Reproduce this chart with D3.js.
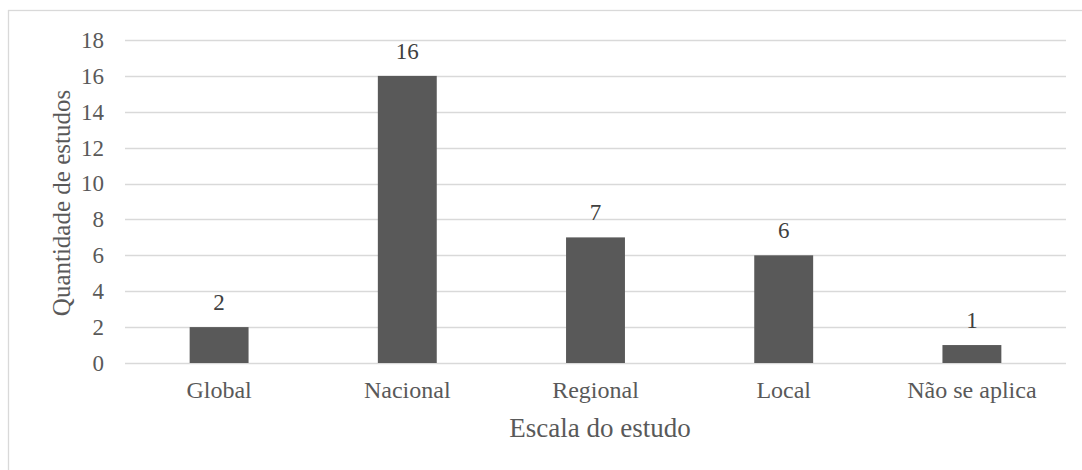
<!DOCTYPE html>
<html>
<head>
<script src="https://cdn.jsdelivr.net/npm/d3@7"></script>
</head>
<body style="margin:0">
<svg id="chart" width="1082" height="470"></svg>
<script>
// Number of studies per study scale
const categories = ["Global", "Nacional", "Regional", "Local", "Não se aplica"];
const values = [2, 16, 7, 6, 1];
const yTicks = [0, 2, 4, 6, 8, 10, 12, 14, 16, 18];
const yTitle = "Quantidade de estudos";
const xTitle = "Escala do estudo";

const W = 1082, H = 470;
const plot = { left: 125, right: 1066, top: 40, bottom: 363 };
const textColor = "#595959";
const gridColor = "#d9d9d9";
const FONT = '"Liberation Serif"';

const svg = d3.select("#chart")
  .style("font-family", FONT)
  .attr("font-family", "Liberation Serif");

// outer frame
svg.append("rect")
  .attr("x", 8.5).attr("y", 10.5)
  .attr("width", W + 20).attr("height", H + 20)
  .attr("fill", "#fff").attr("stroke", gridColor).attr("stroke-width", 1.3);

const x = d3.scaleBand()
  .domain(categories)
  .range([plot.left, plot.right])
  .paddingInner(0.687)
  .paddingOuter(0.3435);

const y = d3.scaleLinear()
  .domain([0, 18])
  .range([plot.bottom, plot.top]);

// horizontal gridlines
svg.append("g")
  .selectAll("line")
  .data(yTicks)
  .join("line")
  .attr("x1", plot.left).attr("x2", plot.right)
  .attr("y1", d => Math.round(y(d)) + 0.5)
  .attr("y2", d => Math.round(y(d)) + 0.5)
  .attr("stroke", gridColor).attr("stroke-width", 1.5);

// y axis labels
const yAxis = d3.axisLeft(y).tickValues(yTicks).tickSize(0).tickPadding(0);
const gy = svg.append("g")
  .attr("transform", `translate(${plot.left - 21},0)`)
  .call(yAxis)
  .attr("font-family", "Liberation Serif")
  .attr("font-size", null);
gy.select(".domain").remove();
gy.selectAll("text")
  .attr("fill", textColor)
  .style("font-family", FONT)
  .style("font-size", "23px");

// x axis labels
const xAxis = d3.axisBottom(x).tickSize(0).tickPadding(0);
const gx = svg.append("g")
  .attr("transform", `translate(0,${plot.bottom + 18})`)
  .call(xAxis)
  .attr("font-family", "Liberation Serif")
  .attr("font-size", null);
gx.select(".domain").remove();
gx.selectAll("text")
  .attr("fill", textColor)
  .style("font-family", FONT)
  .style("font-size", "24px");

// bars
svg.append("g")
  .selectAll("rect")
  .data(values)
  .join("rect")
  .attr("x", (d, i) => x(categories[i]))
  .attr("y", d => y(d))
  .attr("width", x.bandwidth())
  .attr("height", d => y(0) - y(d))
  .attr("fill", "#595959");

// value labels
svg.append("g")
  .selectAll("text")
  .data(values)
  .join("text")
  .attr("x", (d, i) => x(categories[i]) + x.bandwidth() / 2)
  .attr("y", d => y(d) - 17)
  .attr("text-anchor", "middle")
  .attr("fill", "#404040")
  .style("font-family", FONT)
  .style("font-size", "23px")
  .text(d => d);

// axis titles
svg.append("text")
  .attr("transform", `translate(70,203) rotate(-90)`)
  .attr("text-anchor", "middle")
  .attr("fill", textColor)
  .style("font-family", FONT)
  .style("font-size", "25px")
  .text(yTitle);

svg.append("text")
  .attr("x", 600)
  .attr("y", 437)
  .attr("text-anchor", "middle")
  .attr("fill", textColor)
  .style("font-family", FONT)
  .style("font-size", "27px")
  .text(xTitle);
</script>
</body>
</html>
